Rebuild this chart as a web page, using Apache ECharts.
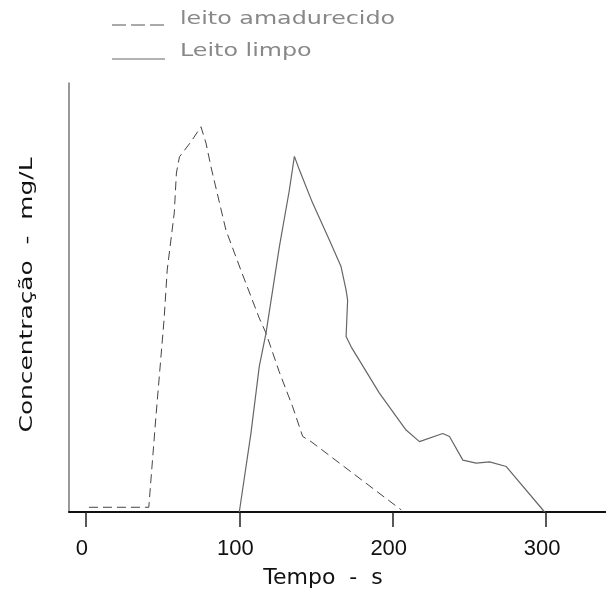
<!DOCTYPE html>
<html>
<head>
<meta charset="utf-8">
<script src="https://cdn.jsdelivr.net/npm/echarts@6/dist/echarts.min.js"></script>
<style>
  html, body { margin: 0; padding: 0; background: #fff; }
  #chart { width: 606px; height: 593px; }
</style>
</head>
<body>
<div id="chart"></div>
<script>
// leito amadurecido (tracejado)
var amadurecidoX = [2, 41, 45.6, 51, 53, 57.6, 59, 61, 68.5, 75, 78.3, 81.5, 91.3, 101, 113, 117.4, 126, 134.8, 141.3, 146.8, 205.5];
var amadurecidoY = [1.1, 1.1, 22, 45, 56.4, 69.7, 79, 82.8, 86.3, 89.8, 86, 80.5, 65.7, 56.4, 45.2, 41.7, 32.7, 24.5, 17.6, 16.4, 0.5];
// leito limpo (continuo)
var limpoX = [100, 107.6, 113, 117.4, 126.1, 132.6, 135.9, 139.2, 147.8, 158.7, 166.3, 169.6, 170.6, 169.6, 172.9, 191.3, 208.7, 217.4, 232.6, 237, 245.7, 254.4, 263.1, 274, 299];
var limpoY = [0, 18.4, 33.9, 41.7, 61.8, 75, 82.9, 79.7, 72, 63.4, 57.2, 51.7, 49.4, 40.9, 38.5, 27.7, 19.1, 16.4, 18.3, 17.6, 12.1, 11.4, 11.7, 10.6, 0];

function pares(xs, ys) {
    var out = [];
    for (var i = 0; i < xs.length; i++) {
        out.push([xs[i], ys[i]]);
    }
    return out;
}

var chart = echarts.init(document.getElementById('chart'));

var option = {
    backgroundColor: '#fff',
    animation: false,
    grid: { left: 69, right: 0, top: 83, bottom: 81, outerBoundsMode: 'none' },
    xAxis: {
        type: 'value',
        min: -11,
        max: 339,
        splitNumber: 3,
        axisLine: { show: true, onZero: false, lineStyle: { color: '#111', width: 2 } },
        axisTick: {
            show: true,
            inside: false,
            length: 15,
            lineStyle: { color: '#222', width: 1.5 }
        },
        axisLabel: {
            showMinLabel: false,
            showMaxLabel: false,
            margin: 26,
            color: '#111',
            fontFamily: 'Liberation Sans',
            fontSize: 22,
            padding: [0, 8, 0, 0]
        },
        splitLine: { show: false }
    },
    yAxis: {
        type: 'value',
        min: 0,
        max: 100,
        axisLine: { show: true, onZero: false, lineStyle: { color: '#777', width: 1.5 } },
        axisTick: { show: false },
        axisLabel: { show: false },
        splitLine: { show: false }
    },
    series: [
        {
            name: 'leito amadurecido',
            type: 'line',
            data: pares(amadurecidoX, amadurecidoY),
            symbol: 'none',
            lineStyle: { color: '#444', width: 1, type: [9, 5] }
        },
        {
            name: 'Leito limpo',
            type: 'line',
            data: pares(limpoX, limpoY),
            symbol: 'none',
            lineStyle: { color: '#666', width: 1.2 }
        }
    ],
    graphic: [
        // legenda
        {
            type: 'line',
            shape: { x1: 112, y1: 25, x2: 167, y2: 25 },
            style: { stroke: '#555', lineWidth: 1, lineDash: [14, 5] }
        },
        {
            type: 'text',
            x: 180, y: 20, scaleX: 1.4,
            style: { text: 'leito amadurecido', fill: '#888', font: '17px "DejaVu Sans"', textVerticalAlign: 'middle' }
        },
        {
            type: 'line',
            shape: { x1: 112, y1: 59, x2: 165, y2: 59 },
            style: { stroke: '#666', lineWidth: 1 }
        },
        {
            type: 'text',
            x: 180, y: 52, scaleX: 1.4,
            style: { text: 'Leito limpo', fill: '#888', font: '17px "DejaVu Sans"', textVerticalAlign: 'middle' }
        },
        // nomes dos eixos
        {
            type: 'text',
            x: 323, y: 578,
            style: { text: 'Tempo  -  s', fill: '#111', font: '22px "DejaVu Sans"', textAlign: 'center', textVerticalAlign: 'middle' }
        },
        {
            type: 'text',
            x: 27, y: 295, rotation: Math.PI / 2, scaleX: 1.38,
            style: { text: 'Concentração  -  mg/L', fill: '#111', font: '18px "DejaVu Sans"', textAlign: 'center', textVerticalAlign: 'middle' }
        }
    ]
};

chart.setOption(option);
</script>
</body>
</html>
